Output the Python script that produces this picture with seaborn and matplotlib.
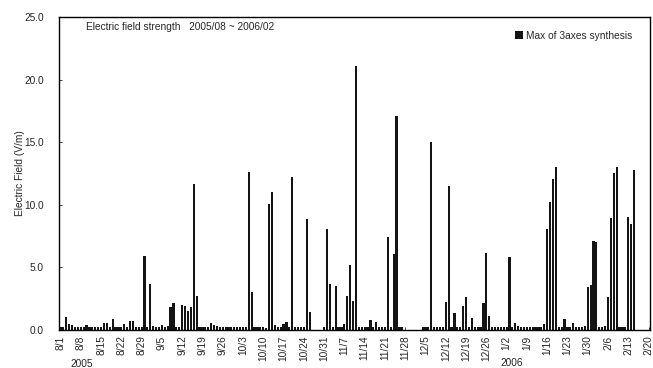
import matplotlib
matplotlib.use("Agg")
import matplotlib.pyplot as plt
import seaborn as sns
import pandas as pd

# daily max of 3-axes synthesis (V/m), 2005/08/01 - 2006/02/20
aug = [0.2, 0.2, 1.05, 0.5, 0.37, 0.27, 0.2, 0.2, 0.2, 0.37, 0.2, 0.2, 0.2, 0.2, 0.25, 0.56,
       0.59, 0.2, 0.88, 0.2, 0.2, 0.25, 0.45, 0.25, 0.72, 0.72, 0.2, 0.2, 0.2, 5.9, 0.2]
sep = [3.68, 0.32, 0.2, 0.2, 0.4, 0.25, 0.32, 1.87, 2.19, 0.2, 0.2, 1.97, 1.95, 1.55, 1.81,
       11.7, 2.7, 0.2, 0.2, 0.2, 0.2, 0.53, 0.4, 0.3, 0.2, 0.2, 0.2, 0.2, 0.2, 0.2]
oct_ = [0.2, 0.25, 0.2, 0.25, 12.65, 3.0, 0.2, 0.2, 0.2, 0.2, 0.15, 10.1, 11.0, 0.43, 0.2,
        0.2, 0.48, 0.6, 0.2, 12.2, 0.2, 0.2, 0.2, 0.2, 8.9, 1.45, 0, 0, 0, 0, 0.2]
nov = [8.1, 3.7, 0.2, 3.5, 0.2, 0.2, 0.5, 2.75, 5.2, 2.35, 21.1, 0.2, 0.2, 0.2, 0.2, 0.77,
       0.2, 0.61, 0.2, 0.2, 0.2, 7.4, 0.2, 6.1, 17.1, 0.2, 0.2, 0, 0, 0]
dec = [0, 0, 0, 0.2, 0.2, 0.2, 15.0, 0.2, 0.2, 0.2, 0.2, 2.24, 11.5, 0.2, 1.36, 0.2,
       0.2, 1.92, 2.6, 0.2, 0.93, 0.2, 0.2, 0.2, 2.13, 6.15, 1.12, 0.2, 0.2, 0.2, 0.2]
jan = [0.2, 0.2, 5.85, 0.2, 0.53, 0.3, 0.2, 0.2, 0.2, 0.2, 0.2, 0.2, 0.2, 0.2, 0.45, 8.1,
       10.2, 12.1, 13.0, 0.2, 0.2, 0.88, 0.2, 0.2, 0.59, 0.2, 0.2, 0.2, 0.3, 3.47, 3.63]
feb = [7.1, 7.0, 0.2, 0.2, 0.32, 2.6, 8.95, 12.5, 13.05, 0.2, 0.2, 0.2, 9.0, 8.45, 12.75,
       0, 0, 0, 0, 0]

values = aug + sep + oct_ + nov + dec + jan + feb
dates = pd.date_range("2005-08-01", "2006-02-20", freq="D")
day_labels = [f"{d.month}/{d.day}" for d in dates]
y_ticks = [0, 5, 10, 15, 20, 25]

df = pd.DataFrame({"day": day_labels, "field": values})

sns.set_style("white")
plt.rcParams["font.family"] = ["Liberation Sans", "DejaVu Sans"]
fs = 7.3

fig = plt.figure(figsize=(6.53, 3.68), dpi=100)
ax = fig.add_axes([0.0904, 0.1033, 0.9050, 0.8505])

sns.barplot(data=df, x="day", y="field", color="#141414", saturation=1, width=0.75,
            linewidth=0, label="Max of 3axes synthesis", ax=ax)

ax.set_xlim(-0.5, len(values) - 0.5)
ax.set_ylim(0, 25)
ax.set_yticks(y_ticks)
ax.set_yticklabels([f"{v:.1f}" for v in y_ticks], fontsize=fs)
tick_pos = list(range(0, len(values), 7))
ax.set_xticks(tick_pos)
ax.set_xticklabels([day_labels[i] for i in tick_pos], rotation=90, fontsize=fs)
ax.tick_params(axis="both", length=2, width=0.6, direction="in")
ax.tick_params(axis="y", left=True, pad=11)
ax.tick_params(axis="x", bottom=True, pad=4)

ax.set_xlabel("")
ax.set_ylabel("Electric Field (V/m)", fontsize=fs)
ax.yaxis.set_label_coords(-0.058, 0.5)

for s in ax.spines.values():
    s.set_visible(True)
    s.set_color("black")
    s.set_linewidth(1.0)

ax.text(0.0457, 0.968, "Electric field strength   2005/08 ~ 2006/02",
        transform=ax.transAxes, fontsize=fs, va="center", ha="left")

ax.legend(loc="upper right", bbox_to_anchor=(0.985, 0.985), frameon=False,
          fontsize=fs, handlelength=0.8, handleheight=0.8, handletextpad=0.3)

fig.text(82 / 653, 1 - 364 / 368, "2005", fontsize=fs, ha="center", va="center")
fig.text(512 / 653, 1 - 363 / 368, "2006", fontsize=fs, ha="center", va="center")

fig.savefig("out.png", dpi=100)
plt.close(fig)
